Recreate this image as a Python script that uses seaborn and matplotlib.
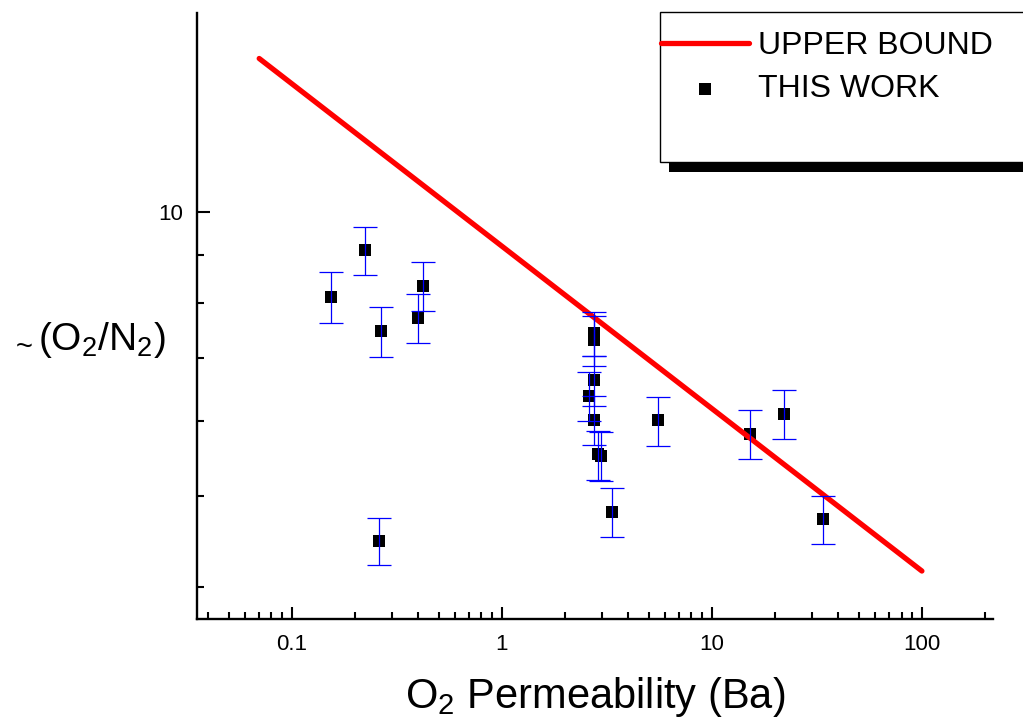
import matplotlib.pyplot as plt
import matplotlib.ticker as mticker
from matplotlib.patches import Rectangle
import numpy as np
import pandas as pd
import seaborn as sns

# O2 permeability (Ba) and O2/N2 selectivity
perm_o2 = [0.154, 0.223, 0.267, 0.260, 0.400, 0.421,
           2.74, 2.74, 2.74, 2.61, 2.74, 2.88, 2.97, 3.34,
           5.55, 15.2, 22.0, 34.0]
selectivity = [8.13, 9.11, 7.47, 4.48, 7.72, 8.35,
               7.44, 7.31, 6.63, 6.38, 6.02, 5.53, 5.51, 4.81,
               6.01, 5.82, 6.11, 4.72]
sel_err = [0.50, 0.54, 0.45, 0.26, 0.46, 0.50,
           0.40, 0.44, 0.40, 0.38, 0.36, 0.33, 0.33, 0.29,
           0.36, 0.35, 0.37, 0.28]

# upper bound line end points
bound_x = [0.07, 100]
bound_y = [14.55, 4.16]

x_major = [0.1, 1, 10, 100]
x_major_labels = ['0.1', '1', '10', '100']
y_major = [10]
y_major_labels = ['10']
y_minor = [4, 5, 6, 7, 8, 9]

sns.set_theme(style='ticks')
plt.rcParams['font.family'] = ['Liberation Sans', 'DejaVu Sans']
plt.rcParams['mathtext.default'] = 'regular'
plt.rcParams['text.color'] = 'black'

df = pd.DataFrame({'perm': perm_o2, 'sel': selectivity, 'err': sel_err})
bound = pd.DataFrame({'perm': bound_x, 'sel': bound_y})

fig = plt.figure(figsize=(10.23, 7.23), dpi=100)
ax = fig.add_axes([197 / 1023, 1 - 619 / 723, 796 / 1023, 606 / 723])
ax.set_xscale('log')
ax.set_yscale('log')

sns.scatterplot(data=df, x='perm', y='sel', ax=ax, marker='s', s=72, color='black',
                linewidth=0, label='THIS WORK', zorder=3)
sns.lineplot(data=bound, x='perm', y='sel', ax=ax, color='#ff0000', lw=3.8,
             solid_capstyle='round', estimator=None, sort=False, label='UPPER BOUND', zorder=4)
ax.errorbar(df['perm'], df['sel'], yerr=df['err'], fmt='none', ecolor='#0000ff',
            elinewidth=0.9, capsize=8.5, capthick=0.9, zorder=5)

ax.set_xlim(0.0354, 218)
ax.set_ylim(3.70, 16.26)

ax.xaxis.set_major_locator(mticker.FixedLocator(x_major))
ax.xaxis.set_major_formatter(mticker.FixedFormatter(x_major_labels))
ax.xaxis.set_minor_locator(mticker.LogLocator(base=10, subs=np.arange(2, 10), numticks=20))
ax.xaxis.set_minor_formatter(mticker.NullFormatter())
ax.yaxis.set_major_locator(mticker.FixedLocator(y_major))
ax.yaxis.set_major_formatter(mticker.FixedFormatter(y_major_labels))
ax.yaxis.set_minor_locator(mticker.FixedLocator(y_minor))
ax.yaxis.set_minor_formatter(mticker.NullFormatter())

ax.tick_params(which='both', direction='in', width=1.5, color='black', labelsize=16,
               labelcolor='black', top=False, right=False)
ax.tick_params(which='major', length=9)
ax.tick_params(which='minor', length=4.8)
ax.tick_params(axis='x', which='both', pad=11)
ax.tick_params(axis='y', which='both', pad=10)

sns.despine(ax=ax)
for side in ['left', 'bottom']:
    ax.spines[side].set_linewidth(1.7)
    ax.spines[side].set_color('black')

ax.set_xlabel('O$_2$ Permeability (Ba)', fontsize=30, color='black', va='baseline')
ax.xaxis.set_label_coords(0.5, -0.147)
ax.set_ylabel('(O$_2$/N$_2$)', fontsize=28, color='black', rotation=0, ha='center', va='center')
ax.yaxis.set_label_coords((102 - 197) / 796, (619 - 340) / 606)
fig.text(24 / 1023, 1 - 347 / 723, '~', fontsize=21, ha='center', va='center', color='black')

# legend box with a hard black drop shadow, running off the right edge
shadow = Rectangle((669 / 1023, 1 - 172 / 723), 0.4, 150 / 723, transform=fig.transFigure,
                   facecolor='black', edgecolor='none', zorder=8)
box = Rectangle((660 / 1023, 1 - 162 / 723), 0.4, 150 / 723, transform=fig.transFigure,
                facecolor='white', edgecolor='black', lw=1.0, zorder=9)
fig.patches.extend([shadow, box])

handles, labels = ax.get_legend_handles_labels()
ax.get_legend().remove()
order = [labels.index('UPPER BOUND'), labels.index('THIS WORK')]
leg = fig.legend([handles[i] for i in order], [labels[i] for i in order],
                 loc='upper left', bbox_to_anchor=(661 / 1023, 1 - 31 / 723),
                 bbox_transform=fig.transFigure, frameon=False, fontsize=23,
                 borderpad=0, borderaxespad=0, handlelength=2.75, handletextpad=0.3,
                 labelspacing=0.42, labelcolor='black', markerscale=1.1)
leg.set_zorder(10)

fig.savefig('out.png', dpi=100)
plt.close(fig)
